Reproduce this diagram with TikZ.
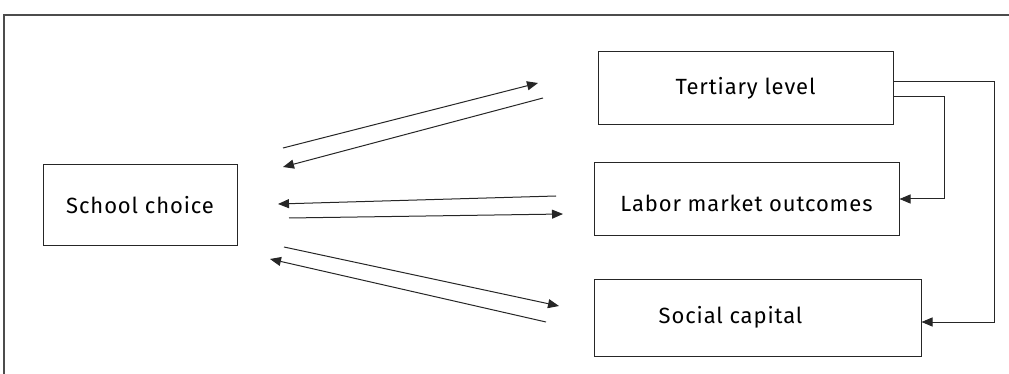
\documentclass[tikz,border=0pt]{standalone}
\usepackage{fontspec}
\setmainfont[LetterSpace=4]{Fira Sans}
\usetikzlibrary{arrows.meta}

\begin{document}
\begin{tikzpicture}[x=1pt,y=-1pt,line width=1pt]
\tikzstyle{box}=[draw=black!85, rectangle, fill=white, inner sep=0pt, font=\fontsize{22}{26}\selectfont]
\tikzstyle{arrow}=[draw=black!85, -{Triangle[length=11pt,width=9pt]}]

\useasboundingbox (0,0) rectangle (1009,374);

% frame
\draw[black!70, line width=1.5pt] (4,374) -- (4,15) -- (1009,15);

\node[box, minimum width=194pt, minimum height=80pt] (school)   at (140,205)   {School choice};
\node[box, minimum width=295pt, minimum height=73pt] (tertiary) at (745.5,88.5) {Tertiary level};
\node[box, minimum width=305pt, minimum height=72pt] (labor)    at (746.5,199) {\raisebox{-13pt}[0pt][0pt]{Labor market outcomes}};
\node[box, minimum width=327pt, minimum height=77pt] (social)   at (757.5,317.5) {Social capital\hspace*{54pt}};

% arrow ends
\coordinate (st1) at (283,148);  \coordinate (ts1) at (538,83);
\coordinate (ts2) at (543,98);   \coordinate (st2) at (283,167);
\coordinate (ls1) at (556,196);  \coordinate (sl1) at (278,204);
\coordinate (sl2) at (289,218);  \coordinate (ls2) at (563,214);
\coordinate (sc1) at (284,247);  \coordinate (cs1) at (559,306);
\coordinate (cs2) at (546,322);  \coordinate (sc2) at (270,259);

\draw[arrow] (st1) -- (ts1);
\draw[arrow] (ts2) -- (st2);
\draw[arrow] (ls1) -- (sl1);
\draw[arrow] (sl2) -- (ls2);
\draw[arrow] (sc1) -- (cs1);
\draw[arrow] (cs2) -- (sc2);

\draw[arrow] ([yshift=6.5pt]tertiary.east) -- ++(101,0) |- ([yshift=-4.5pt]social.east);
\draw[arrow] ([yshift=-8.5pt]tertiary.east) -- ++(51,0) |- (labor.east);
\end{tikzpicture}
\end{document}
